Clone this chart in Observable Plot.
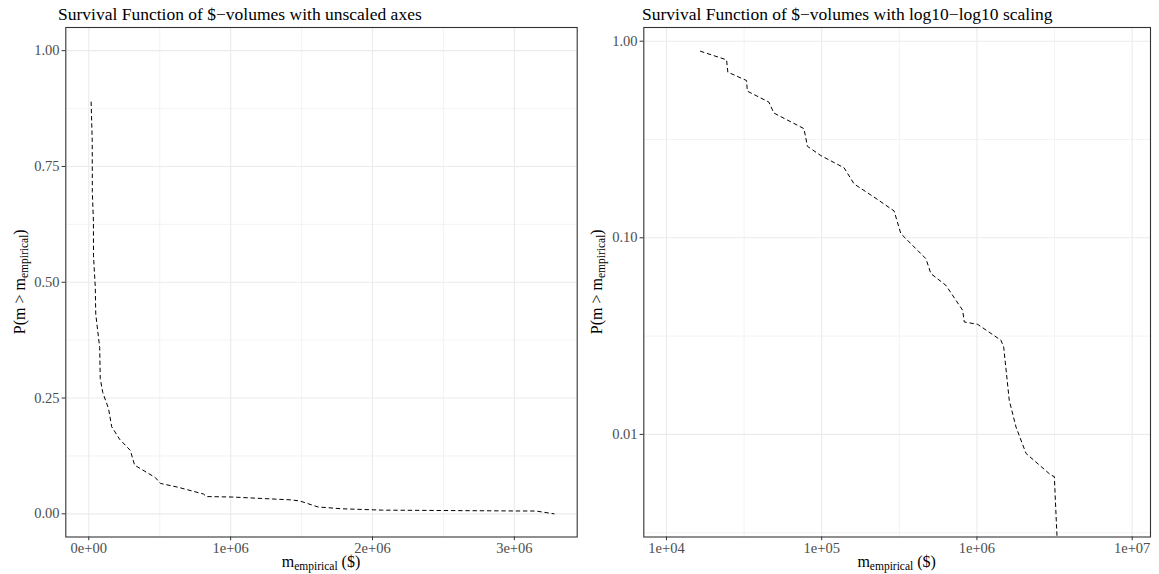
<!DOCTYPE html>
<html><head><meta charset="utf-8">
<script src="https://cdn.jsdelivr.net/npm/d3@7"></script>
<script src="https://cdn.jsdelivr.net/npm/@observablehq/plot@0.6"></script>
<style>
html,body{margin:0;padding:0;background:#fff;overflow:hidden}
#wrap{position:relative;width:1159px;height:574px}
#wrap svg{position:absolute;top:0;overflow:visible}
</style></head><body><div id="wrap"></div>
<script>
// empirical survival function
const volume = [16560, 24380, 24850, 32800, 33180, 45700, 49200, 76900, 80900, 98600, 139400, 161600, 217500, 292600, 323400, 468900, 505300, 631000, 808800, 828600, 1010000, 1429000, 1487000, 1615000, 1785000, 2071000, 3000000, 3152000, 3280000];
const survival = [0.889, 0.804, 0.696, 0.631, 0.557, 0.490, 0.431, 0.359, 0.292, 0.262, 0.227, 0.188, 0.161, 0.137, 0.105, 0.0783, 0.0657, 0.0573, 0.0428, 0.0373, 0.0363, 0.0301, 0.0278, 0.0149, 0.0109, 0.0080, 0.0062, 0.0061, 0];

const titles = ["Survival Function of $\u2212volumes with unscaled axes", "Survival Function of $\u2212volumes with log10\u2212log10 scaling"];

const linXTicks = [0, 1e6, 2e6, 3e6];
const linXMinor = [5e5, 1.5e6, 2.5e6];
const linYTicks = [0, 0.25, 0.5, 0.75, 1];
const linYMinor = [0.125, 0.375, 0.625, 0.875];
const logXTicks = [1e4, 1e5, 1e6, 1e7];
const logXMinor = [Math.pow(10, 4.5), Math.pow(10, 5.5), Math.pow(10, 6.5)];
const logYTicks = [0.01, 0.1, 1];
const logYMinor = [Math.pow(10, -2.5), Math.pow(10, -1.5), Math.pow(10, -0.5)];

const data = volume.map((m, i) => ({m, p: survival[i]}));

const sci = d => {
  let [a, e] = d.toExponential(0).split("e");
  const s = e[0] === "-" ? "-" : "+";
  e = e.replace(/^[+-]/, "");
  return a + "e" + s + (e.length < 2 ? "0" + e : e);
};
const f2 = d3.format(".2f");

const FONT = "Liberation Serif, DejaVu Serif, serif";
const GRID = "#ebebeb";
const INK = "#333333";
const LAB = "#4d4d4d";
const TICKFS = 14.5;

function panel({width, ml, mr, x, y, xt, xm, yt, ym, yVal}) {
  return Plot.plot({
    width, height: 574,
    marginLeft: ml, marginRight: mr, marginTop: 27, marginBottom: 37.5,
    style: {fontFamily: FONT, background: "white", overflow: "visible"},
    x: {...x, label: null},
    y: {...y, label: null},
    marks: [
      Plot.gridX(xm, {stroke: GRID, strokeOpacity: 1, strokeWidth: 0.6}),
      Plot.gridY(ym, {stroke: GRID, strokeOpacity: 1, strokeWidth: 0.6}),
      Plot.gridX(xt, {stroke: GRID, strokeOpacity: 1, strokeWidth: 1.1}),
      Plot.gridY(yt, {stroke: GRID, strokeOpacity: 1, strokeWidth: 1.1}),
      Plot.line(data, {x: "m", y: yVal, stroke: "black", strokeWidth: 1, strokeDasharray: "3.6,3.6", clip: true}),
      Plot.frame({stroke: INK, strokeWidth: 1.1}),
      Plot.axisX(xt, {tickSize: 3.7, tickPadding: 2.5, stroke: INK, fill: LAB, tickFormat: x.fmt, label: null}),
      Plot.axisY(yt, {tickSize: 3.7, tickPadding: 2.5, stroke: INK, fill: LAB, tickFormat: f2, label: null})
    ]
  });
}

const yLogDomain = [Math.pow(10, -2.522), Math.pow(10, 0.0697)];

const left = panel({
  width: 580, ml: 65.3, mr: 3.3,
  x: {type: "linear", domain: [-162000, 3443000], fmt: sci},
  y: {type: "linear", domain: [-0.05, 1.05]},
  xt: linXTicks, xm: linXMinor, yt: linYTicks, ym: linYMinor,
  yVal: "p"
});
const right = panel({
  width: 579, ml: 63.3, mr: 9,
  x: {type: "log", domain: [Math.pow(10, 3.854), Math.pow(10, 7.118)], fmt: sci},
  y: {type: "log", domain: yLogDomain},
  xt: logXTicks, xm: logXMinor, yt: logYTicks, ym: logYMinor,
  yVal: d => d.p > 0 ? d.p : yLogDomain[0]
});

const wrap = document.getElementById("wrap");
left.style.left = "0px";
right.style.left = "580px";
wrap.appendChild(left);
wrap.appendChild(right);

function decorate(svg, title, titleX, panelL, panelR, yTitleX) {
  const s = d3.select(svg);
  // enlarge tick labels
  s.selectAll("g[aria-label$='tick label']").attr("font-size", TICKFS).style("font-size", TICKFS + "px");
  s.selectAll("g[aria-label$='tick label'] text").style("font-size", TICKFS + "px");
  s.append("text").attr("x", titleX).attr("y", 20).attr("text-anchor", "start")
    .attr("font-size", 17.5).attr("fill", "black").attr("font-family", FONT)
    .text(title);
  const cx = (panelL + panelR) / 2;
  const xt = s.append("text").attr("x", cx).attr("y", 567).attr("text-anchor", "middle")
    .attr("font-size", 16).attr("fill", "black").attr("font-family", FONT);
  xt.append("tspan").text("m");
  xt.append("tspan").attr("font-size", 11.5).attr("dy", 3).text("empirical");
  xt.append("tspan").attr("dy", -3).text(" ($)");
  const cy = (27 + 536.5) / 2;
  const yt = s.append("text").attr("transform", `translate(${yTitleX},${cy}) rotate(-90)`)
    .attr("text-anchor", "middle").attr("font-size", 16).attr("fill", "black").attr("font-family", FONT);
  yt.append("tspan").text("P(m > m");
  yt.append("tspan").attr("font-size", 11.5).attr("dy", 3).text("empirical");
  yt.append("tspan").attr("dy", -3).text(")");
}
decorate(left, titles[0], 58, 65.3, 576.7, 25);
decorate(right, titles[1], 62, 63.3, 570, 22);
</script></body></html>
